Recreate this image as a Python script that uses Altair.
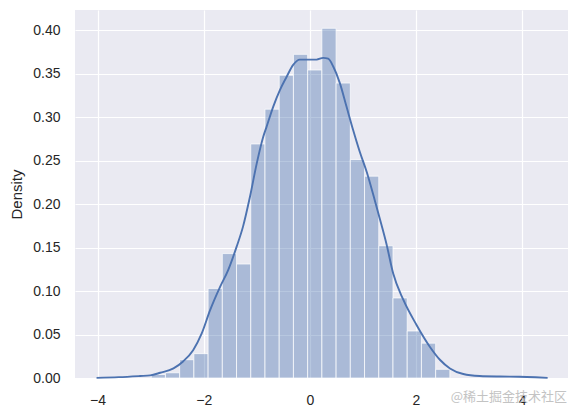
import altair as alt
import pandas as pd

# Histogram (density) — 21 bins starting at -2.99, width ~0.268
bin_start = -2.99
bin_width = 0.268
bar_heights = [0.004, 0.006, 0.021, 0.028, 0.103, 0.143, 0.131, 0.269, 0.309, 0.348,
               0.372, 0.354, 0.402, 0.339, 0.251, 0.232, 0.152, 0.092, 0.054, 0.040, 0.010]

# KDE curve
kde_x = [-4.02, -3.60, -3.20, -3.01, -2.82, -2.57, -2.39, -2.20, -2.04, -1.88, -1.69, -1.54,
         -1.38, -1.26, -1.13, -1.00, -0.88, -0.815, -0.69, -0.565, -0.44, -0.315, -0.19,
         0.0, 0.126, 0.25, 0.345, 0.44, 0.565, 0.69, 0.815, 0.94, 1.07, 1.22, 1.35, 1.44,
         1.57, 1.76, 2.01, 2.26, 2.45, 2.64, 2.89, 3.20, 3.58, 3.95, 4.25, 4.48]
kde_y = [0.0002, 0.0010, 0.0023, 0.0030, 0.006, 0.011, 0.019, 0.032, 0.051, 0.078, 0.105, 0.124,
         0.151, 0.174, 0.208, 0.247, 0.277, 0.289, 0.312, 0.331, 0.346, 0.360, 0.366,
         0.366, 0.366, 0.368, 0.367, 0.358, 0.339, 0.312, 0.285, 0.260, 0.237, 0.205, 0.176, 0.155,
         0.120, 0.090, 0.061, 0.036, 0.021, 0.011, 0.0046, 0.0023, 0.0017, 0.0015, 0.0009, 0.0002]

x_ticks = [-4, -2, 0, 2, 4]
y_ticks = [0.00, 0.05, 0.10, 0.15, 0.20, 0.25, 0.30, 0.35, 0.40]

bars = pd.DataFrame({
    "x0": [bin_start + i * bin_width for i in range(len(bar_heights))],
    "x1": [bin_start + (i + 1) * bin_width for i in range(len(bar_heights))],
    "d": bar_heights,
})
kde = pd.DataFrame({"x": kde_x, "y": kde_y})

xscale = alt.Scale(domain=[-4.426, 4.864], nice=False, zero=False)
yscale = alt.Scale(domain=[0, 0.423], nice=False)

xaxis = alt.Axis(values=x_ticks, title=None, format="d", labelExpr="replace(datum.label, '-', '\u2212')")
yaxis = alt.Axis(values=y_ticks, title="Density", format=".2f")

hist = alt.Chart(bars).mark_rect(
    color="#4C72B0", fillOpacity=0.4, stroke="white", strokeWidth=1, strokeOpacity=0.7
).encode(
    x=alt.X("x0:Q", scale=xscale, axis=xaxis),
    x2="x1:Q",
    y=alt.Y("d:Q", scale=yscale, axis=yaxis),
    y2=alt.datum(0),
)

line = alt.Chart(kde).mark_line(color="#4C72B0", strokeWidth=1.9, interpolate="monotone").encode(
    x=alt.X("x:Q", scale=xscale),
    y=alt.Y("y:Q", scale=yscale),
)

wm = alt.Chart(pd.DataFrame({"t": ["@稀土掘金技术社区"]})).mark_text(
    align="right", baseline="middle", font="Noto Sans CJK SC", fontSize=13,
    color="#bdbdbd", opacity=0.9
).encode(text="t:N", x=alt.value(492), y=alt.value(387))

chart = alt.layer(hist, line, wm).properties(
    width=493, height=368,
    autosize=alt.AutoSizeParams(type="none"),
    padding={"left": 67, "top": 2, "right": 3, "bottom": 30},
    background="white",
).configure_view(
    fill="#EAEAF2", stroke=None
).configure_axis(
    grid=True, gridColor="white", gridWidth=1.2, domain=False, ticks=False,
    labelFont="Liberation Sans", labelFontSize=14, labelColor="#262626", labelPadding=15,
    titleFont="Liberation Sans", titleFontSize=15, titleFontWeight="normal", titleColor="#262626",
    titlePadding=8,
)

chart.save("out.html", embed_options={"renderer": "svg", "actions": False})
